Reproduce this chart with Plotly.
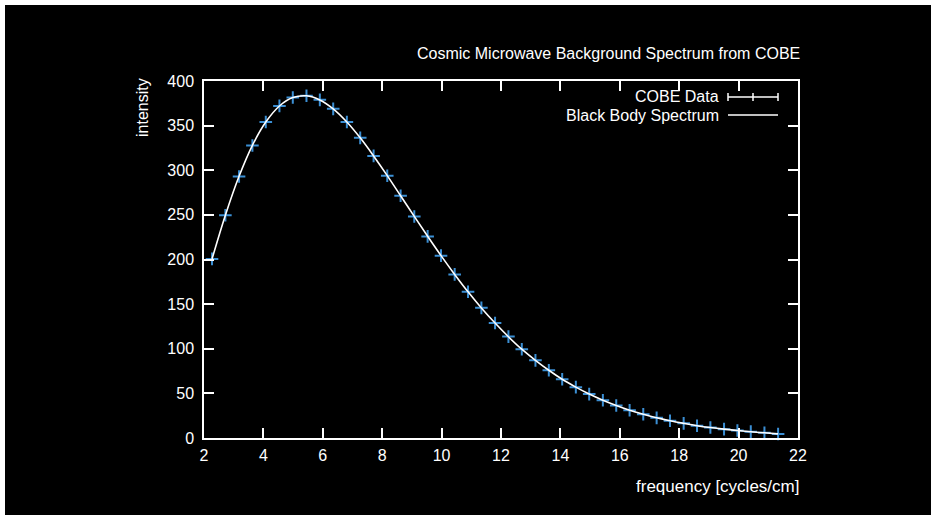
import plotly.graph_objects as go

# COBE FIRAS measurements
frequency = [2.27, 2.72, 3.18, 3.63, 4.08, 4.54, 4.99, 5.45, 5.90, 6.35,
             6.81, 7.26, 7.71, 8.17, 8.62, 9.08, 9.53, 9.98, 10.44, 10.89,
             11.34, 11.80, 12.25, 12.70, 13.16, 13.61, 14.06, 14.52, 14.97, 15.43,
             15.88, 16.33, 16.79, 17.24, 17.69, 18.15, 18.60, 19.05, 19.51, 19.96,
             20.41, 20.87, 21.33]
intensity = [200.7, 249.5, 293.0, 327.8, 354.1, 372.1, 381.5, 383.5, 378.9, 368.8,
             354.1, 336.3, 316.1, 293.9, 271.4, 248.2, 225.9, 204.3, 183.3, 163.8,
             145.8, 128.8, 113.6, 99.5, 87.0, 75.9, 65.8, 57.0, 49.2, 42.3,
             36.4, 31.1, 26.6, 22.6, 19.3, 16.4, 13.8, 11.7, 9.9, 8.4,
             7.1, 5.8, 4.5]

# Black body model evaluated at the same frequencies
bb_frequency = frequency
bb_intensity = [200.5, 249.6, 293.2, 327.9, 354.0, 372.0, 381.4, 383.4, 378.8, 368.8,
                354.1, 336.3, 316.0, 294.0, 271.4, 248.3, 226.0, 204.3, 183.3, 163.8,
                145.7, 128.8, 113.5, 99.5, 87.0, 75.9, 65.8, 57.0, 49.2, 42.3,
                36.4, 31.1, 26.6, 22.6, 19.3, 16.4, 13.8, 11.7, 9.9, 8.4,
                7.0, 5.8, 4.6]

W, H = 931, 515
L, R, T, B = 204, 133, 81, 77
PW, PH = W - L - R, H - T - B


def px(x):
    return (x - L) / PW


def py(y):
    return (H - B - y) / PH


FONT = "Liberation Sans, Arial, sans-serif"
FS = 16
WHITE = "#ffffff"
BLUE = "#3b8fd4"

fig = go.Figure()
fig.add_trace(go.Scatter(
    x=frequency, y=intensity, mode="markers", name="COBE Data",
    marker=dict(symbol="cross-thin", size=9, line=dict(color=BLUE, width=2)),
    showlegend=False, cliponaxis=False,
))
fig.add_trace(go.Scatter(
    x=bb_frequency, y=bb_intensity, mode="lines", name="Black Body Spectrum",
    line=dict(color=WHITE, width=1.6, shape="spline", smoothing=1.0),
    showlegend=False,
))

axis_common = dict(
    showgrid=False, zeroline=False, showline=True, linecolor=WHITE, linewidth=1.5,
    mirror="ticks", ticks="inside", ticklen=10, tickwidth=1.5, tickcolor=WHITE,
    tickfont=dict(family=FONT, size=FS, color=WHITE),
)
fig.update_xaxes(range=[2, 22], dtick=2, tick0=2, ticklabelstandoff=2, **axis_common)
fig.update_yaxes(range=[0, 400], dtick=50, tick0=0, ticklabelstandoff=5, **axis_common)

annotations = [
    dict(text="Cosmic Microwave Background Spectrum from COBE", x=px(802), y=py(53),
         xanchor="right", yanchor="middle", size=FS),
    dict(text="frequency [cycles/cm]", x=px(801), y=py(486),
         xanchor="right", yanchor="middle", size=17),
    dict(text="intensity", x=px(143), y=py(108), textangle=-90,
         xanchor="center", yanchor="middle", size=FS),
    dict(text="COBE Data", x=px(721), y=py(97),
         xanchor="right", yanchor="middle", size=FS),
    dict(text="Black Body Spectrum", x=px(721), y=py(115),
         xanchor="right", yanchor="middle", size=FS),
]
for a in annotations:
    size = a.pop("size")
    a.update(xref="paper", yref="paper", showarrow=False,
             font=dict(family=FONT, size=size, color=WHITE))


def seg(x0, y0, x1, y1):
    return dict(type="line", xref="paper", yref="paper",
                x0=px(x0), y0=py(y0), x1=px(x1), y1=py(y1),
                line=dict(color=WHITE, width=1.5))


shapes = [
    # key samples: error bar and line
    seg(728, 97, 778, 97), seg(728, 93, 728, 101), seg(778, 93, 778, 101),
    seg(753, 93, 753, 101),
    seg(728, 115, 778, 115),
    # light strips along the top and left edges of the page
    dict(type="rect", xref="paper", yref="paper", x0=px(0), x1=px(W), y0=py(5), y1=py(0),
         fillcolor=WHITE, line=dict(width=0)),
    dict(type="rect", xref="paper", yref="paper", x0=px(0), x1=px(5), y0=py(H), y1=py(0),
         fillcolor=WHITE, line=dict(width=0)),
]

fig.update_layout(
    width=W, height=H, margin=dict(l=L, r=R, t=T, b=B),
    paper_bgcolor="#000000", plot_bgcolor="#000000",
    font=dict(family=FONT, color=WHITE),
    annotations=annotations, shapes=shapes, showlegend=False,
)

fig.write_html("out.html")
